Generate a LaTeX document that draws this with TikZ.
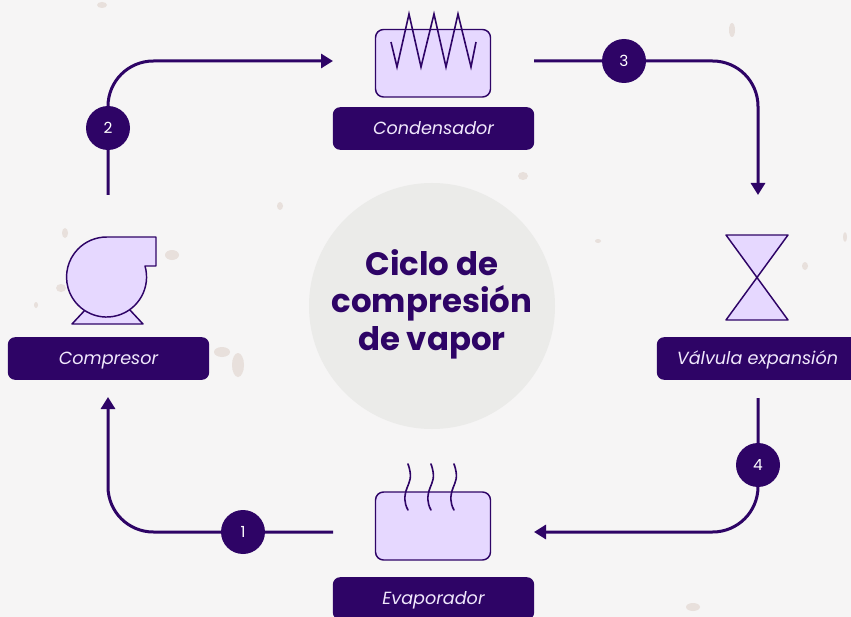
\documentclass[tikz,border=0pt]{standalone}
\usepackage{fontspec}
\setmainfont{Poppins}
\usepackage{xcolor}
\usetikzlibrary{arrows.meta, positioning}
\definecolor{bgcolor}{RGB}{246, 245, 245}
\definecolor{inkcolor}{RGB}{46, 4, 102}
\definecolor{fillcolor}{RGB}{230, 216, 255}
\definecolor{hubcolor}{RGB}{235, 235, 233}
\definecolor{labelcolor}{RGB}{240, 232, 252}
\definecolor{speckcolor}{RGB}{232, 224, 220}
\tikzset{
    pipe/.style={line width=2.25pt, inkcolor, rounded corners=34pt},
    pipetip/.style={-{Triangle[length=9pt, width=10.5pt]}},
    badge/.style={circle, fill=inkcolor, text=white, minimum size=33pt, inner sep=0pt, font=\fontsize{11.5}{12}\selectfont},
    tag/.style={fill=inkcolor, text=labelcolor, rounded corners=5.5pt, minimum width=151pt, minimum height=32pt, inner sep=0pt, text height=12pt, text depth=2.5pt, font=\fontsize{13.2}{15}\selectfont\itshape},
    part/.style={draw=inkcolor, fill=fillcolor, line width=1.1pt, line join=round},
    coil/.style={draw=inkcolor, line width=1.2pt},
}
\begin{document}
\begin{tikzpicture}[x=0.75pt, y=-0.75pt]
    \useasboundingbox (0, 0) rectangle (851, 617);
    \fill[bgcolor] (0, 0) rectangle (851, 617);

    % Background specks
    \foreach \px/\py/\rx/\ry in {238/365/6/12, 172/255/7/5, 65/233/3/5, 61/288/5/4, 36/305/2/3, 523/176/5/4,
        732/30/3/7, 280/206/3/4, 805/266/3/4, 845/237/2/5, 693/607/7/4, 102/5/5/3, 222/352/8/5, 598/241/3/2} {
        \fill[speckcolor] (\px, \py) ellipse [x radius=\rx, y radius=\ry];
    }

    % Centre
    \node[circle, fill=hubcolor, minimum size=184.5pt, inner sep=0pt] (hub) at (432, 306) {};
    \node[font=\fontsize{24.3}{28}\selectfont\bfseries, text=inkcolor, align=center] (title) at (432, 304)
        {Ciclo de\\compresión\\de vapor};

    % Condenser
    \node[tag] (condtag) at (433.5, 128.5) {Condensador};
    \draw[part, rounded corners=6pt] (375.5, 29.5) rectangle (490.5, 97);
    \draw[coil] (391, 42) -- (397, 67) -- (409, 14) -- (421, 67) -- (434, 14) -- (446, 67) -- (458, 14) -- (471, 67) -- (476, 42);

    % Compressor
    \node[tag] (comptag) at (108.5, 358.5) {Compresor};
    \draw[part] (72, 324) -- (86, 309) -- (129, 309) -- (143, 324) -- cycle;
    \draw[part] (106, 237) -- (156, 237) -- (156, 266) -- (145, 266)
        arc[start angle=16, end angle=-270, radius=30pt] -- cycle;

    % Valve
    \node[tag] (valvetag) at (757.5, 358.5) {Válvula expansión};
    \draw[part] (726, 235) -- (788, 235) -- (726, 320) -- (788, 320) -- cycle;

    % Evaporator
    \node[tag] (evaptag) at (433.5, 598.5) {Evaporador};
    \draw[part, rounded corners=6pt] (375.5, 492) rectangle (490.5, 560);
    \foreach \wx in {408, 431, 454} {
        \draw[coil, line cap=round] (\wx, 464) .. controls (\wx+5, 478) and (\wx+1, 482) .. (\wx-1, 488)
            .. controls (\wx-4, 496) and (\wx-4, 503) .. (\wx, 510);
    }

    % Connection points
    \coordinate (compout) at (108, 195);
    \coordinate (condin) at (333, 61);
    \coordinate (condout) at (534, 61);
    \coordinate (valvein) at (758, 195);
    \coordinate (valveout) at (758, 398);
    \coordinate (evapin) at (534, 532);
    \coordinate (evapout) at (333, 532);
    \coordinate (compin) at (108, 397);

    % Pipes
    \draw[pipe, pipetip] (compout) |- (condin);
    \draw[pipe, pipetip] (condout) -| (valvein);
    \draw[pipe, pipetip] (valveout) |- (evapin);
    \draw[pipe, pipetip] (evapout) -| (compin);

    % Numbers
    \node[badge] (n1) at (243, 532) {1};
    \node[badge] (n2) at (108, 128) {2};
    \node[badge] (n3) at (624, 61) {3};
    \node[badge] (n4) at (758, 465) {4};
\end{tikzpicture}
\end{document}
